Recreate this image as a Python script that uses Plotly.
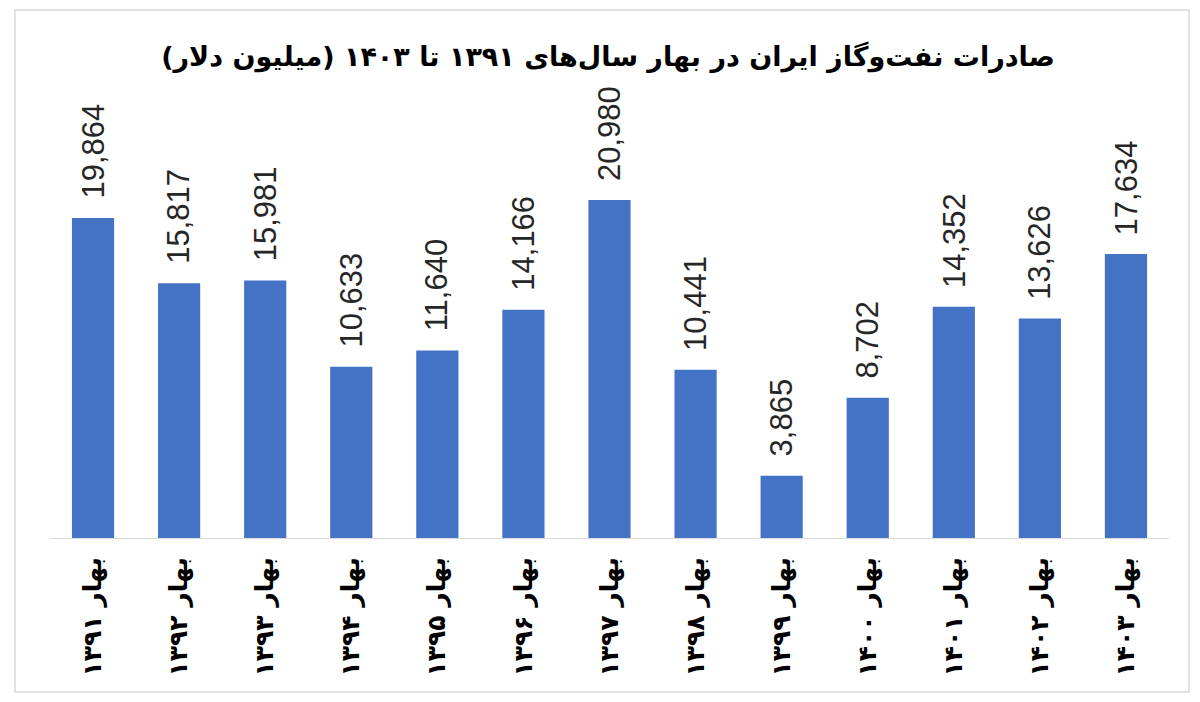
import plotly.graph_objects as go

categories = ["بهار ۱۳۹۱", "بهار ۱۳۹۲", "بهار ۱۳۹۳", "بهار ۱۳۹۴", "بهار ۱۳۹۵", "بهار ۱۳۹۶",
              "بهار ۱۳۹۷", "بهار ۱۳۹۸", "بهار ۱۳۹۹", "بهار ۱۴۰۰", "بهار ۱۴۰۱", "بهار ۱۴۰۲", "بهار ۱۴۰۳"]
values = [19864, 15817, 15981, 10633, 11640, 14166, 20980, 10441, 3865, 8702, 14352, 13626, 17634]
title_text = "\u200fصادرات نفت‌وگاز ایران در بهار سال‌های ۱۳۹۱ تا ۱۴۰۳ (میلیون دلار)\u200f"

BAR = "#4472C4"

fig = go.Figure()
fig.add_trace(go.Bar(
    x=categories, y=values,
    marker=dict(color=BAR, line=dict(width=0)),
    hoverinfo="x+y",
))

for c, v in zip(categories, values):
    fig.add_annotation(
        x=c, y=v, text=f"{v:,}", textangle=-90, showarrow=False,
        xanchor="center", yanchor="bottom", yshift=17,
        font=dict(family="Liberation Sans, Arial, sans-serif", size=31, color="#262626"),
    )

fig.update_layout(
    width=1200, height=702,
    margin=dict(l=42, r=39, t=82, b=172),
    paper_bgcolor="white", plot_bgcolor="white",
    bargap=0.51,
    showlegend=False,
    title=dict(text=title_text, x=0.5, xanchor="center", y=1 - 49 / 702, yanchor="middle",
               font=dict(family="DejaVu Sans", size=27, color="#000000", weight="bold")),
    xaxis=dict(
        showgrid=False, zeroline=False, showline=True, linecolor="#D9D9D9", linewidth=1,
        ticks="", tickangle=-90, ticklabelstandoff=8,
        tickfont=dict(family="DejaVu Sans", size=25, color="#000000", weight="bold"),
    ),
    yaxis=dict(visible=False, range=[0, 27809], showgrid=False, zeroline=False),
    shapes=[dict(type="rect", xref="paper", yref="paper",
                 x0=(15 - 50) / 1119, x1=(1189 - 50) / 1119,
                 y0=(538 - 692) / 448, y1=(538 - 10) / 448,
                 line=dict(color="#D9D9D9", width=1.5), fillcolor="rgba(0,0,0,0)", layer="below")],
)

fig.write_html("out.html")
